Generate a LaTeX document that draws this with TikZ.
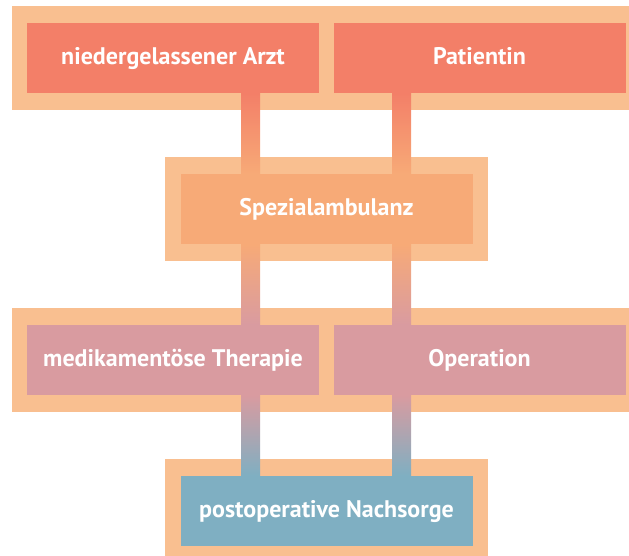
\documentclass[tikz,border=0pt]{standalone}
\usepackage{fontspec}
\setmainfont{PT Sans}
\usetikzlibrary{calc,fit,backgrounds}
\definecolor{framec}{HTML}{F9BF90}
\definecolor{topc}{HTML}{F37F68}
\definecolor{spezc}{HTML}{F7AA77}
\definecolor{midc}{HTML}{D99BA0}
\definecolor{lowc}{HTML}{7FAFC2}
\tikzset{box/.style={minimum width=292bp,minimum height=70bp,inner sep=0pt,
  text height=20bp,text depth=6bp,
  text=white,font=\fontsize{24bp}{28bp}\selectfont\bfseries}}
\tikzset{frame/.style={fill=framec,inner xsep=15bp,inner ysep=16.5bp}}

\begin{document}
\begin{tikzpicture}[x=1bp,y=1bp]
\useasboundingbox (0,0) rectangle (629,556);
\node[box,fill=topc]  (arzt)      at (173,498)   {niedergelassener Arzt};
\node[box,fill=topc]  (patientin) at (479.5,498) {Patientin};
\node[box,fill=spezc] (spez)      at (326.5,347) {Spezialambulanz};
\node[box,fill=midc]  (medi)      at (173,196)   {medikamentöse Therapie};
\node[box,fill=midc]  (op)        at (479.5,196) {Operation};
\node[box,fill=lowc]  (nach)      at (326.5,45)  {postoperative Nachsorge};
\coordinate (cl) at (250.5,0);
\coordinate (cr) at (401.5,0);
\begin{scope}[on background layer]
\clip (0,0) rectangle (629,556);
\node[frame,fit=(arzt)(patientin)] (rowa) {};
\node[frame,fit=(spez)] (rowb) {};
\node[frame,fit=(medi)(op)] (rowc) {};
\node[frame,fit=(nach)] (rowd) {};
\shade[top color=topc,bottom color=spezc]
  ($(cl |- arzt.south)+(-9.5,0)$) rectangle ($(cl |- spez.north)+(9.5,0)$);
\shade[top color=topc,bottom color=spezc]
  ($(cr |- patientin.south)+(-9.5,0)$) rectangle ($(cr |- spez.north)+(9.5,0)$);
\shade[top color=spezc,bottom color=midc]
  ($(cl |- spez.south)+(-9.5,0)$) rectangle ($(cl |- medi.north)+(9.5,0)$);
\shade[top color=spezc,bottom color=midc]
  ($(cr |- spez.south)+(-9.5,0)$) rectangle ($(cr |- op.north)+(9.5,0)$);
\shade[top color=midc,bottom color=lowc]
  ($(cl |- medi.south)+(-9.5,0)$) rectangle ($(cl |- nach.north)+(9.5,0)$);
\shade[top color=midc,bottom color=lowc]
  ($(cr |- op.south)+(-9.5,0)$) rectangle ($(cr |- nach.north)+(9.5,0)$);
\end{scope}
\end{tikzpicture}
\end{document}
